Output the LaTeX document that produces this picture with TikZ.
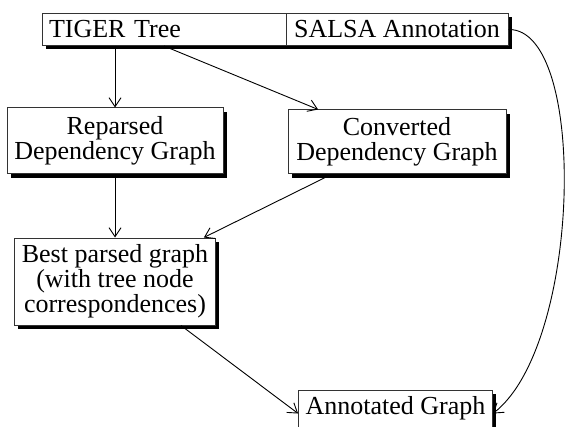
\documentclass[tikz,border=0pt]{standalone}
\usepackage{fontspec}
\setmainfont{Liberation Serif}
\usetikzlibrary{arrows.meta}
\usetikzlibrary{shadows}

\begin{document}
\begin{tikzpicture}[x=0.5pt,y=-0.5pt,
    box/.style={draw=black!80,line width=0.5pt,fill=white,
      inner xsep=3.5pt,inner ysep=1.5pt,align=center,
      font=\fontsize{13}{12.6}\selectfont,
      drop shadow={shadow xshift=1.9pt,shadow yshift=-1.9pt,fill=black,opacity=1}},
    flow/.style={-{Straight Barb[length=4.5pt,width=6pt]},line width=0.45pt}]
        \def\lx{115}
        \def\rx{397}

        \useasboundingbox (0,0) rectangle (566,427);

        %------------------
        % 上段
        %------------------

        \node[box,text width=115pt,align=left,minimum height=16pt] (tiger) at (164,29.5) {TIGER Tree};
        \node[box,inner xsep=2.5pt,minimum width=111pt,minimum height=16pt] (salsa) at (\rx,29.5) {SALSA Annotation};

        %------------------
        % 中段
        %------------------

        \node[box,minimum width=108pt,minimum height=33pt] (reparsed) at (\lx,141) {Reparsed\\Dependency Graph};
        \node[box,minimum width=109pt,minimum height=32pt] (converted) at (\rx,142) {Converted\\Dependency Graph};

        \node[box,minimum width=100.5pt,minimum height=43.5pt] (best) at (\lx,281.5)
          {Best parsed graph\\(with tree node\\correspondences)};

        %------------------
        % 下段
        %------------------

        \node[box,anchor=north,minimum width=96.5pt,inner ysep=3pt,text depth=8pt] (annotated) at (395.5,390) {Annotated Graph};

        %------------------
        % 矢印
        %------------------

        \draw[flow] (tiger.south -| reparsed.north) -- (reparsed.north);
        \draw[flow] (tiger.south) -- (converted);
        \draw[flow] (reparsed) -- (best);
        \draw[flow] (converted) -- (best);
        \draw[flow] ([xshift=33pt]best.south) -- (annotated.west);
        \draw[flow] (salsa.east) .. controls (588,28) and (582,345) .. (annotated.east);
      \end{tikzpicture}
\end{document}
